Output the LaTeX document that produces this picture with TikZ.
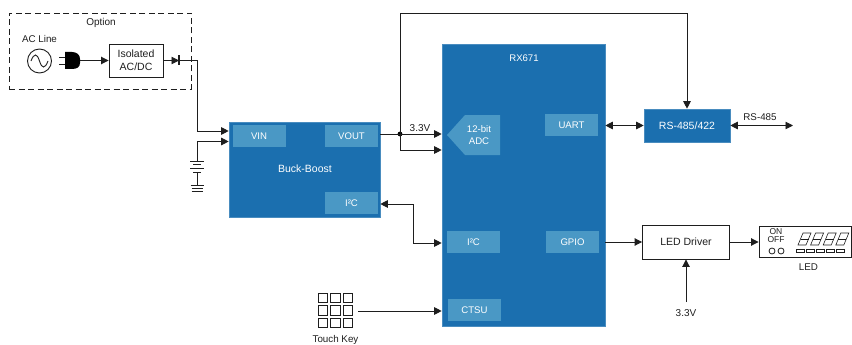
\documentclass[tikz,border=0pt]{standalone}
\usepackage{fontspec}
\setmainfont{Liberation Sans}
\definecolor{rxblue}{RGB}{27,111,175}
\definecolor{rxlight}{RGB}{74,152,197}
\definecolor{inkgray}{RGB}{30,30,30}
\usetikzlibrary{arrows.meta,positioning,calc}

\begin{document}
\begin{tikzpicture}[
    x=1pt, y=-1pt,
    blueblock/.style={rectangle, fill=rxblue, draw=rxblue!80!white, line width=0.6pt, text=white,
                      font=\fontsize{10.5}{12}\selectfont, inner sep=0pt},
    portbox/.style={rectangle, fill=rxlight, text=white, font=\fontsize{9.6}{11}\selectfont,
                    minimum width=53pt, minimum height=22pt, inner sep=0pt},
    whitebox/.style={rectangle, draw=inkgray, line width=0.9pt, fill=white, text=inkgray,
                     font=\fontsize{10.5}{12}\selectfont, inner sep=0pt, align=center},
    lbl/.style={font=\fontsize{9.8}{11}\selectfont, text=inkgray, inner sep=0pt},
    wire/.style={line width=0.9pt, draw=inkgray},
    keycell/.style={rectangle, draw=inkgray, line width=0.9pt, minimum size=9.5pt, inner sep=0pt},
    >={Triangle[length=7.5pt,width=7.5pt]}
  ]
    \useasboundingbox (0,0) rectangle (852,345);

    % Option
    \node[rectangle, draw=inkgray, line width=0.9pt, dash pattern=on 6pt off 3.5pt,
          minimum width=182pt, minimum height=76pt] (option) at (100,51) {};
    \node[lbl, font=\fontsize{10}{12}\selectfont] (optlabel) at (101,22.5) {Option};
    \node[lbl] (aclabel) at (39.5,39) {AC Line};
    \node[circle, draw=inkgray, line width=0.9pt, minimum size=24pt, inner sep=0pt] (acline) at (39.5,61) {};
    \draw[wire] (31,61) .. controls (34,53) and (37,53) .. (39.5,61) .. controls (42,69) and (45,69) .. (48,61);
    \coordinate (plug) at (80,60.5);
    \fill[black] (65,52) -- (72,52) .. controls (77,52) and (80,55) .. (80,59) -- (80,63) .. controls (80,67) and (77,69) .. (72,69) -- (65,69) -- cycle;
    \draw[wire, line width=0.6pt] (59,57.5) -- (65,57.5) (59,64.5) -- (65,64.5);
    \node[whitebox, minimum width=54pt, minimum height=33pt] (iso) at (136,60.5) {Isolated\\[1pt]AC/DC};
    \coordinate (diode) at (179,60.5);
    \coordinate (vinbend) at (197,131);

    % Buck-Boost
    \node[blueblock, minimum width=151pt, minimum height=95pt] (buck) at (304.5,169.5) {};
    \node[text=white, font=\fontsize{10.5}{12}\selectfont, inner sep=0pt] (bucklabel) at (305,169) {Buck-Boost};
    \node[portbox] (vin) at (259,136) {VIN};
    \node[portbox] (vout) at (351.5,136) {VOUT};
    \node[portbox] (bucki2c) at (351.5,203) {I²C};

    % RX671
    \node[blueblock, minimum width=163pt, minimum height=282pt] (rx) at (523.5,185) {};
    \node[text=white, font=\fontsize{9.6}{11}\selectfont, inner sep=0pt] (rxlabel) at (524,58) {RX671};
    \fill[rxlight] (447,135) -- (465,115) -- (500,115) -- (500,155) -- (465,155) -- cycle;
    \node[text=white, font=\fontsize{9.6}{11}\selectfont, inner sep=0pt, align=center] (adc) at (479,135) {12-bit\\[1pt]ADC};
    \node[portbox] (uart) at (571.5,125) {UART};
    \node[portbox] (rxi2c) at (473.5,242) {I²C};
    \node[portbox] (gpio) at (572.5,242) {GPIO};
    \node[portbox] (ctsu) at (474.5,310) {CTSU};

    % Right side
    \node[blueblock, minimum width=86pt, minimum height=33pt] (rs) at (687,125.5) {RS-485/422};
    \node[whitebox, minimum width=87pt, minimum height=34pt] (driver) at (686,242) {LED Driver};
    \node[rectangle, draw=inkgray, line width=0.9pt, minimum width=92pt, minimum height=31pt] (panel) at (805,241.5) {};
    \node[lbl, font=\fontsize{8.5}{8}\selectfont, align=center] (onoff) at (776,236) {ON\\OFF};
    \node[circle, draw=inkgray, line width=0.8pt, minimum size=6pt, inner sep=0pt] (led1) at (772,251) {};
    \node[circle, draw=inkgray, line width=0.8pt, minimum size=6pt, inner sep=0pt] (led2) at (781,251) {};
    \foreach \i in {0,1,2,3} {
      \begin{scope}[xshift=\i*12.6pt, line width=0.6pt]
        \draw[inkgray] (803,233) -- (811,233) -- (806,245) -- (798,245) -- cycle;
        \draw[inkgray] (800.5,239) -- (808.5,239);
      \end{scope}
    }
    \foreach \i in {0,1,2,3,4} {
      \draw[inkgray, line width=0.7pt] (796+\i*10,249.5) rectangle (804+\i*10,252.5);
    }
    \node[lbl] (ledlabel) at (808.5,267) {LED};
    \node[lbl, font=\fontsize{10}{12}\selectfont] (vdrv) at (686,313) {3.3V};
    \coordinate (vdrvend) at (686,302);
    \coordinate (rsend) at (793,125.5);
    \node[lbl] (rslabel) at (760,117) {RS-485};

    % Touch key
    \foreach \r in {0,1,2} {
      \foreach \c in {0,1,2} {
        \node[keycell] (key\r\c) at (323+\c*12.5,298+\r*12.5) {};
      }
    }
    \node[lbl] (keylabel) at (335.5,340) {Touch Key};
    \coordinate (keyout) at (358,311);

    % Battery
    \coordinate (batbend) at (197,141.5);
    \coordinate (battop) at (197,161);
    \coordinate (batbot) at (197,185);

    % Arrows
    \draw[wire, ->] (plug) -- (iso.west);
    \draw[wire, ->] (iso.east) -- (diode);
    \draw[wire, line width=1.1pt] (179,55.5) -- (179,65.5);
    \draw[wire] (diode) -| (vinbend);
    \draw[wire, ->] (vinbend) -- (buck.west |- vinbend);
    \draw[wire, ->] (battop) -- (batbend) -- (buck.west |- batbend);
    \draw[wire, line width=1pt] (190,161) -- (204,161) (193,164.5) -- (201,164.5) (190,168) -- (204,168) (193,172) -- (201,172);
    \draw[wire] (197,172) -- (batbot);
    \draw[wire, line width=0.8pt] (190.5,185) -- (203.5,185) (191.5,188) -- (202.5,188) (191.5,191) -- (202.5,191);

    \coordinate (vnode) at (400,134);
    \coordinate (vtop) at (400,13);
    \coordinate (vlow) at (400,150);
    \fill[black] (vnode) circle (2.4pt);
    \draw[wire, ->] (buck.east |- vnode) -- (rx.west |- vnode) node[midway, above=1.5pt, lbl, font=\fontsize{10}{12}\selectfont, xshift=9pt] (vlabel) {3.3V};
    \draw[wire, ->] (vnode) -- (vlow) -- (rx.west |- vlow);
    \draw[wire, ->] (vnode) -- (vtop) -| (rs.north);
    \draw[wire, <->] (rx.east |- rs) -- (rs.west);
    \draw[wire, <->] (rs.east |- rsend) -- (rsend);

    \coordinate (i2cbend) at (413,204);
    \coordinate (i2clow) at (413,243);
    \draw[wire, <->] (buck.east |- i2cbend) -- (i2cbend) -- (i2clow) -- (rx.west |- i2clow);
    \draw[wire, ->] (keyout) -- (rx.west |- keyout);
    \draw[wire, ->] (rx.east |- driver) -- (driver.west);
    \draw[wire, ->] (driver.east) -- (panel.west |- driver);
    \draw[wire, ->] (vdrvend) -- (driver.south -| vdrvend);
  \end{tikzpicture}
\end{document}
